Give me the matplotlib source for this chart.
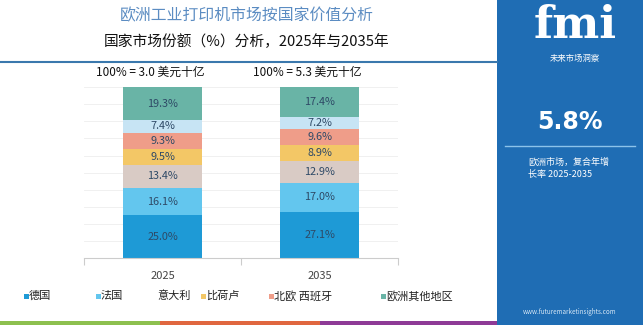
import matplotlib
matplotlib.use("Agg")
import matplotlib.pyplot as plt
from matplotlib.patches import Rectangle
import numpy as np

plt.rcParams['font.family'] = ['Noto Sans CJK SC', 'DejaVu Sans']

years = ["2025", "2035"]
totals = ["100% = 3.0 美元十亿", "100% = 5.3 美元十亿"]
segments = ["德国", "法国", "意大利", "比荷卢", "北欧", "西班牙", "欧洲其他地区"]
share_2025 = [25.0, 16.1, 13.4, 9.5, 9.3, 7.4, 19.3]
share_2035 = [27.1, 17.0, 12.9, 8.9, 9.6, 7.2, 17.4]
colors = ["#1e9ad6", "#63c6ee", "#d9cbc5", "#f3c766", "#ef9d89", "#c7e4f4", "#69b4a6"]

legend_labels = ["德国", "法国", "意大利", "比荷卢", "北欧 西班牙", "欧洲其他地区"]
legend_colors = ["#1e9ad6", "#63c6ee", None, "#f3c766", "#ef9d89", "#69b4a6"]
legend_x = [28, 100, 157, 205, 273, 385]

W, H = 643, 325
fig = plt.figure(figsize=(W/100, H/100), dpi=100)
fig.patch.set_facecolor("white")

def fx(px): return px / W
def fy(py): return 1 - py / H

# Right panel
fig.add_artist(Rectangle((fx(497), 0), 1 - fx(497), 1, transform=fig.transFigure,
                         facecolor="#1f6db4", edgecolor="none", zorder=0))
# bottom strip
fig.add_artist(Rectangle((0, 0), fx(160), 4/H, transform=fig.transFigure, facecolor="#8dc04f", edgecolor="none"))
fig.add_artist(Rectangle((fx(160), 0), fx(160), 4/H, transform=fig.transFigure, facecolor="#e0673f", edgecolor="none"))
fig.add_artist(Rectangle((fx(320), 0), fx(177), 4/H, transform=fig.transFigure, facecolor="#8e3a96", edgecolor="none"))

# header line
fig.add_artist(plt.Line2D([0, fx(497)], [fy(62), fy(62)], transform=fig.transFigure,
                          color="#3a78ad", lw=1.5))

# titles
fig.text(fx(247), fy(16), "欧洲工业打印机市场按国家价值分析", ha="center", va="center",
         fontsize=11.4, color="#5b8cc2")
fig.text(fx(247), fy(42), "国家市场份额（%）分析，2025年与2035年", ha="center", va="center",
         fontsize=10.6, color="#111111")

# Axes
ax = fig.add_axes([fx(84), fy(258), (398-84)/W, (258-87)/H])
x = np.arange(len(years))
data = [share_2025, share_2035]
for i, vals in enumerate(data):
    bottom = 0
    for j, v in enumerate(vals):
        ax.bar(x[i], v, bottom=bottom, width=0.505, color=colors[j], edgecolor="none", zorder=2)
        ax.text(x[i], bottom + v/2, f"{v:.1f}%", ha="center", va="center",
                fontsize=7.8, color="#2e4966", zorder=3)
        bottom += v
ax.set_xlim(-0.5, 1.5)
ax.set_ylim(0, 100.1)
ax.set_yticks(np.arange(0, 101, 10))
ax.yaxis.grid(True, color="#eeeeee", lw=0.6, zorder=0)
ax.set_yticklabels([])
ax.tick_params(axis="y", length=0)
ax.set_xticks([-0.5, 0.5, 1.5])
ax.set_xticklabels([])
ax.tick_params(axis="x", length=5, color="#cccccc", direction="out")
for s in ["top", "right", "left"]:
    ax.spines[s].set_visible(False)
ax.spines["bottom"].set_color("#cccccc")
ax.set_facecolor("none")

for i, yr in enumerate(years):
    ax.text(x[i], -10.5, yr, ha="center", va="center", fontsize=8, color="#444444")
    ax.text(x[i] - 0.075, 108.5, totals[i], ha="center", va="center", fontsize=8.5, color="#111111")

# legend
for lbl, c, px in zip(legend_labels, legend_colors, legend_x):
    if c is not None:
        fig.add_artist(Rectangle((fx(px-4), fy(299)), 5/W, 5/H, transform=fig.transFigure,
                                 facecolor=c, edgecolor="none"))
        fig.text(fx(px+1), fy(296), lbl, ha="left", va="center", fontsize=8, color="#222222")
    else:
        fig.text(fx(px), fy(296), lbl, ha="left", va="center", fontsize=8, color="#222222")

# right panel texts
fig.text(fx(575), fy(26), "fmi", ha="center", va="center", fontsize=32, color="white",
         fontweight="bold", family="DejaVu Serif")
fig.text(fx(575), fy(58), "未来市场洞察", ha="center", va="center", fontsize=6, color="white")
fig.text(fx(570), fy(122), "5.8%", ha="center", va="center", fontsize=17, color="white",
         fontweight="bold", family="DejaVu Sans")
fig.add_artist(plt.Line2D([fx(505), fx(635)], [fy(146), fy(146)], transform=fig.transFigure,
                          color="#8cc3ea", lw=1))
fig.text(fx(528), fy(168), "欧洲市场，复合年增\n长率 2025-2035", ha="left", va="center",
         fontsize=6.5, color="white", linespacing=1.4)
fig.text(fx(570), fy(312), "www.futuremarketinsights.com", ha="center", va="center",
         fontsize=4.5, color="#d5e6f5")

fig.savefig("out.png", dpi=100)
